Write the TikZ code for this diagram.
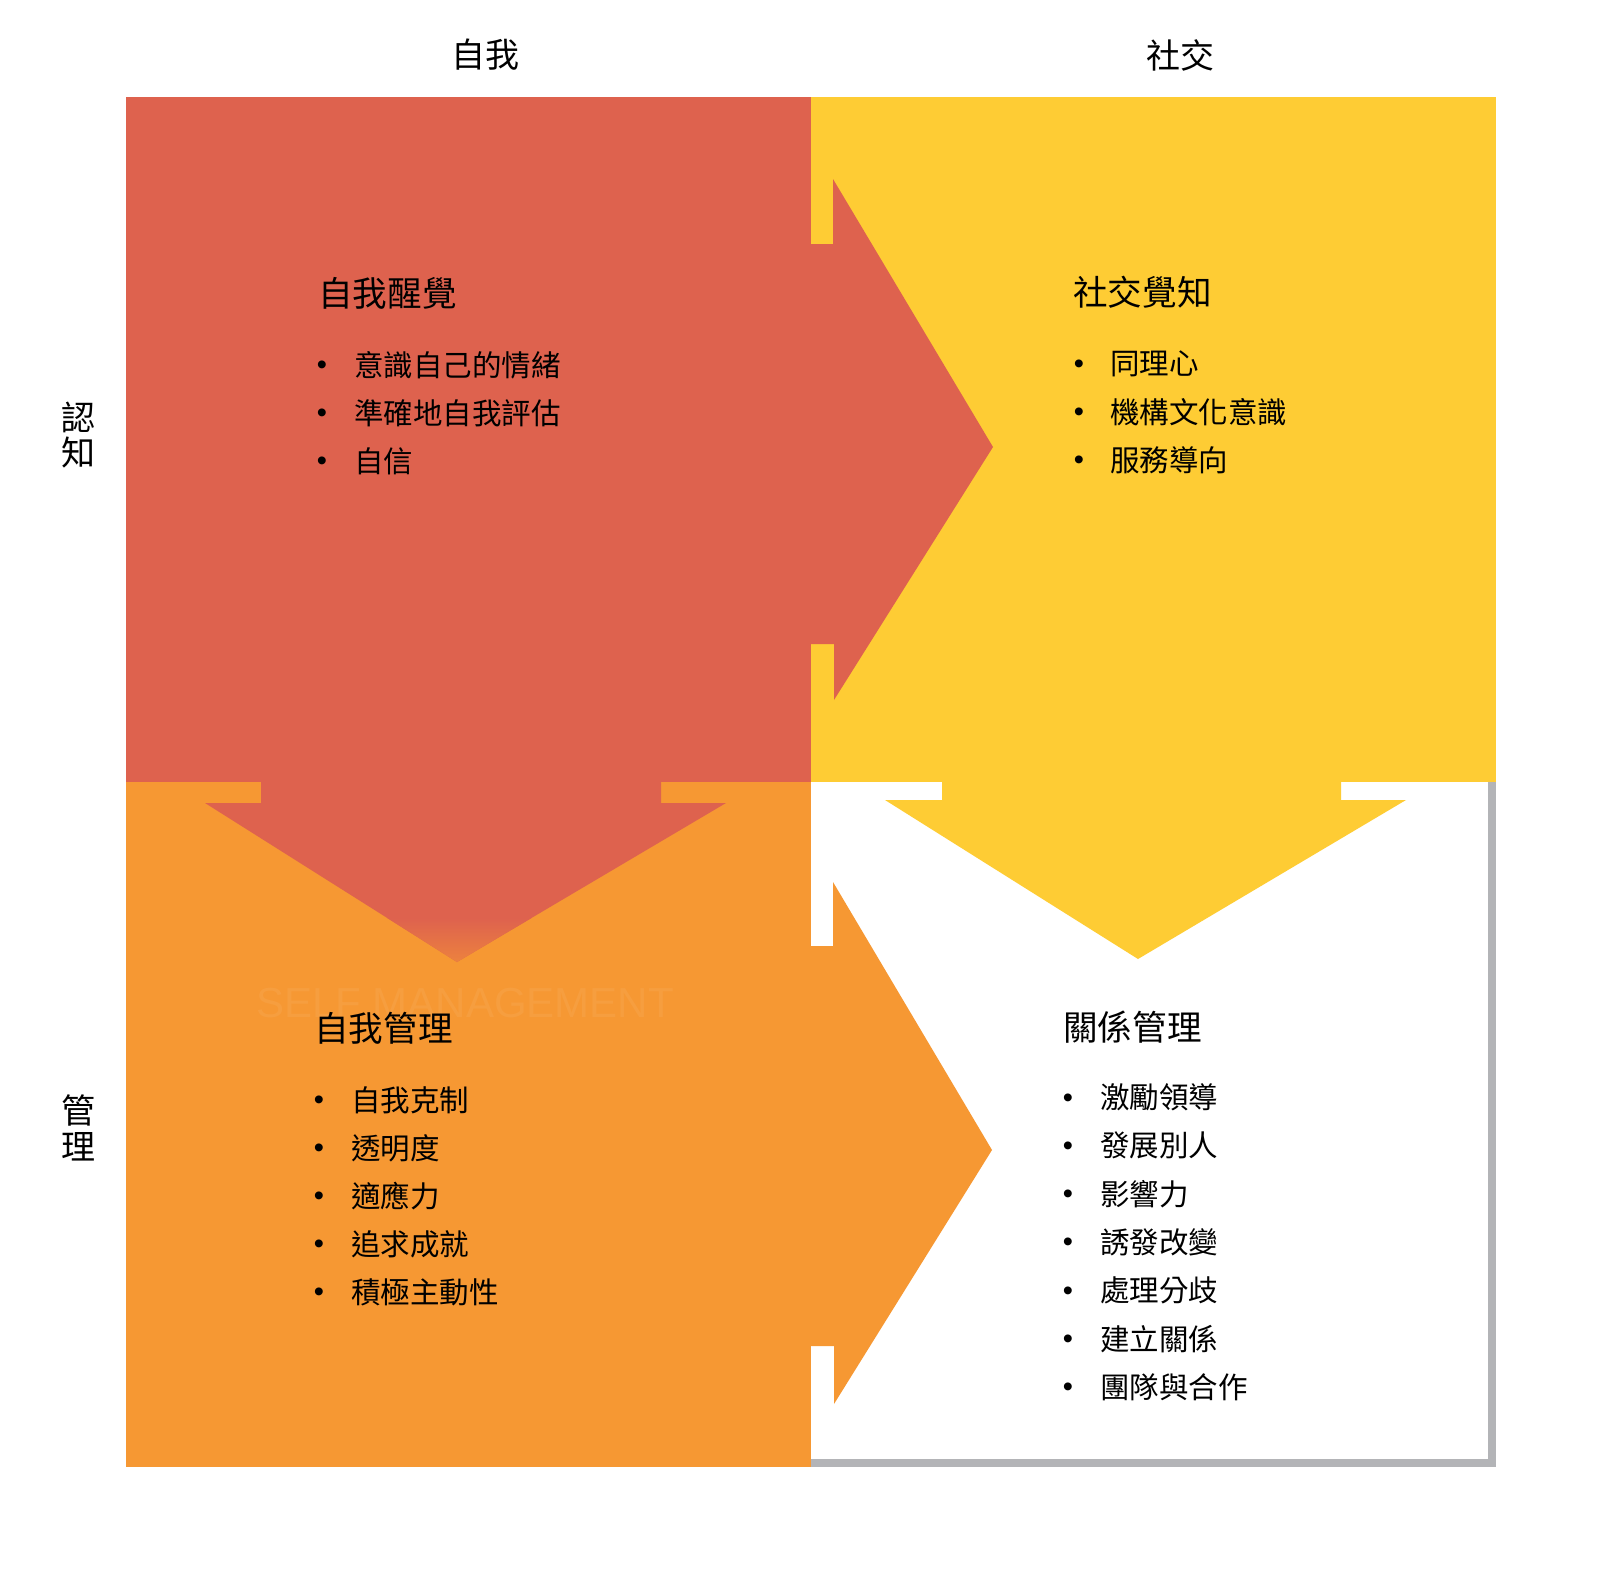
\documentclass[tikz,border=0pt]{standalone}
\usepackage{fontspec}
\newfontfamily\cjk{Noto Sans CJK TC}
\newfontfamily\latinfont{Liberation Sans}
\definecolor{cred}{HTML}{DE624E}
\definecolor{cyellow}{HTML}{FECC34}
\definecolor{corange}{HTML}{F69833}
\definecolor{cgray}{HTML}{B3B4B7}
\tikzset{
  titletext/.style={font=\cjk\fontsize{34.6}{40}\selectfont, anchor=west, inner sep=0pt},
  itemtext/.style={font=\cjk\fontsize{29.5}{34}\selectfont, anchor=west, inner sep=0pt},
  dottext/.style={font=\latinfont\fontsize{29}{34}\selectfont, inner sep=0pt, yshift=-3pt},
  axistext/.style={font=\cjk\fontsize{34}{35.5}\selectfont, align=center, inner sep=0pt},
  headtext/.style={font=\cjk\fontsize{34}{40}\selectfont, inner sep=0pt},
}
\begin{document}
\begin{tikzpicture}[x=1pt,y=-1pt]
\useasboundingbox (0,0) rectangle (1604,1580);
\fill[white] (0,0) rectangle (1604,1580);
% quadrants
\fill[cred] (126,97) rectangle (811,782);
\fill[cyellow] (811,97) rectangle (1496,782);
\fill[corange] (126,782) rectangle (811,1467);
\fill[white] (811,782) rectangle (1496,1467);
\fill[cgray] (811,1459) rectangle (1496,1467);
\fill[cgray] (1488,782) rectangle (1496,1467);
% ghost text
\node[font=\latinfont\fontsize{42}{46}\selectfont, text=white, opacity=0.06, anchor=west, inner sep=0pt] (ghost) at (256,1003) {SELF MANAGEMENT};
% red arrow to the right
\fill[cred] (811,244) -- (833,244) -- (833,179) -- (993,447) -- (834,700) -- (834,644) -- (811,644) -- cycle;
% red arrow down
\fill[cred] (261,781) -- (261,803) -- (205,803) -- (457,962) -- (726,803) -- (661,803) -- (661,781) -- cycle;
\begin{scope}
  \clip (205,803) -- (457,962) -- (726,803) -- cycle;
  \shade[top color=cred, bottom color=cred!40!corange] (200,918) rectangle (730,963);
\end{scope}
% yellow arrow down
\fill[cyellow] (942,781) -- (942,800) -- (885,800) -- (1138,959) -- (1406,800) -- (1341,800) -- (1341,781) -- cycle;
% orange arrow to the right
\fill[corange] (810,946) -- (833,946) -- (833,882) -- (992,1150) -- (834,1404) -- (834,1346) -- (810,1346) -- cycle;
% axis labels
\node[headtext] (hself) at (485,55) {自我};
\node[headtext] (hsocial) at (1180,55) {社交};
\node[axistext] (hcog) at (78,435) {認\\知};
\node[axistext] (hman) at (78,1128) {管\\理};
% titles
\node[titletext] (t1) at (318,293) {自我醒覺};
\node[titletext] (t2) at (1073,292) {社交覺知};
\node[titletext] (t3) at (314,1028) {自我管理};
\node[titletext] (t4) at (1063,1027) {關係管理};
% items
\foreach \t [count=\i] in {意識自己的情緒, 準確地自我評估, 自信} {
  \node[dottext] (rb\i) at (322,{317+48*\i}) {•};
  \node[itemtext] (ri\i) at (354,{317+48*\i}) {\t};
}
\foreach \t [count=\i] in {同理心, 機構文化意識, 服務導向} {
  \node[dottext] (yb\i) at (1079,{316+48*\i}) {•};
  \node[itemtext] (yi\i) at (1110,{316+48*\i}) {\t};
}
\foreach \t [count=\i] in {自我克制, 透明度, 適應力, 追求成就, 積極主動性} {
  \node[dottext] (ob\i) at (319,{1052+48*\i}) {•};
  \node[itemtext] (oi\i) at (351,{1052+48*\i}) {\t};
}
\foreach \t [count=\i] in {激勵領導, 發展別人, 影響力, 誘發改變, 處理分歧, 建立關係, 團隊與合作} {
  \node[dottext] (wb\i) at (1068,{1049+48.3*\i}) {•};
  \node[itemtext] (wi\i) at (1100,{1049+48.3*\i}) {\t};
}
\end{tikzpicture}
\end{document}
